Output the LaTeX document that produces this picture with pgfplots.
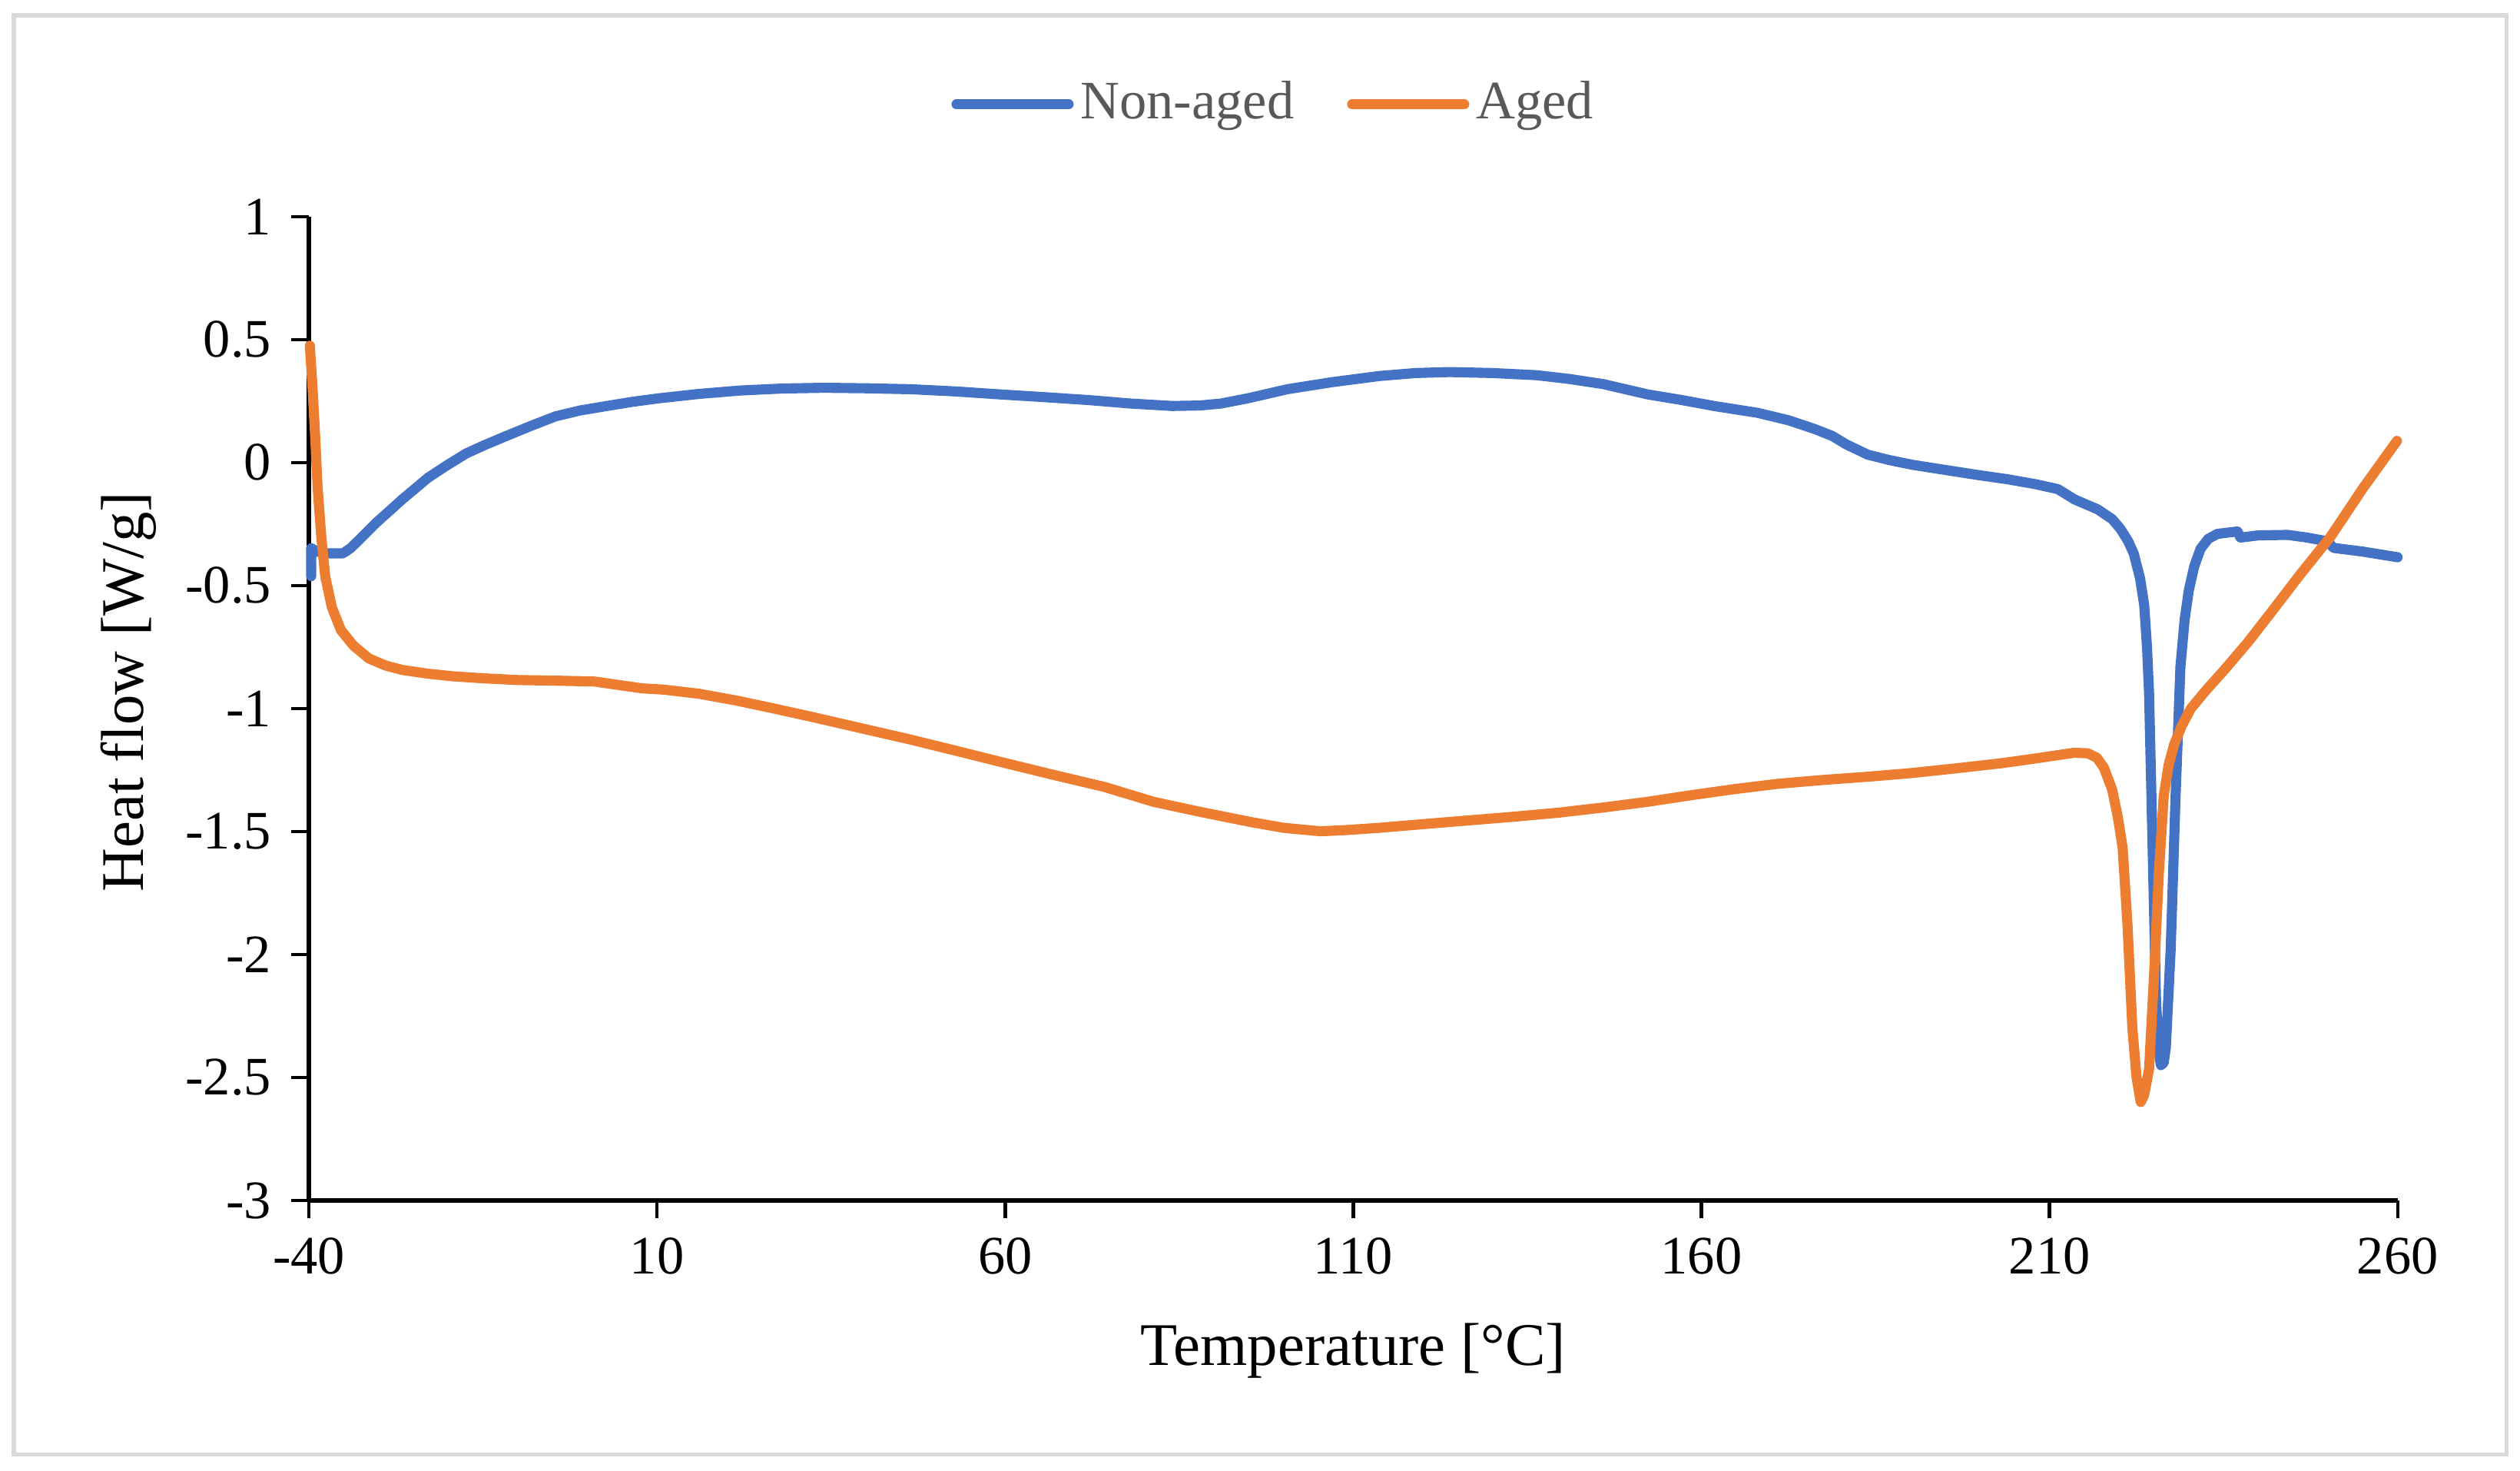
\documentclass[border=0pt]{standalone}
\usepackage{pgfplots}
\pgfplotsset{compat=1.18}
\usepackage{fontspec}
\setmainfont{Liberation Serif}
\definecolor{cblue}{HTML}{4472C4}
\definecolor{corange}{HTML}{ED7D31}
\definecolor{lgray}{HTML}{D9D9D9}
\definecolor{tgray}{HTML}{595959}

\pgfplotstableread{
T v
-39.67 -0.462
-39.67 -0.348
-38.8 -0.362
-37.65 -0.369
-35.1 -0.369
-34.0 -0.348
-32.2 -0.298
-30.3 -0.244
-28.4 -0.196
-26.6 -0.150
-24.7 -0.105
-22.9 -0.062
-20.1 -0.010
-17.4 0.037
-14.6 0.073
-11.9 0.105
-8.2 0.148
-4.55 0.188
-1.0 0.212
2.8 0.230
6.5 0.247
10.2 0.261
16.0 0.279
22 0.293
28 0.301
34 0.304
40 0.302
46.6 0.298
53 0.289
59.3 0.277
65.6 0.266
72.0 0.254
78 0.240
84.0 0.230
88 0.232
91.0 0.240
95 0.262
100.5 0.298
107 0.327
113.8 0.352
119 0.364
123.8 0.368
130 0.364
136.4 0.355
141 0.340
145.9 0.319
152.3 0.277
157 0.255
161.8 0.230
168.1 0.202
172.5 0.172
176.3 0.136
178.8 0.108
180.8 0.074
183.9 0.032
187 0.010
190.3 -0.009
195 -0.030
199.8 -0.051
204 -0.068
208.0 -0.088
211.2 -0.108
213.6 -0.150
216.9 -0.190
219 -0.230
220.2 -0.270
221.3 -0.320
222.1 -0.370
223.0 -0.470
223.6 -0.580
224.0 -0.750
224.3 -0.940
224.8 -1.560
225.3 -2.190
225.7 -2.400
226.0 -2.450
226.4 -2.440
226.7 -2.380
227.4 -1.980
228.1 -1.360
228.8 -0.830
229.4 -0.640
230.0 -0.520
230.8 -0.420
231.7 -0.350
232.8 -0.310
234.1 -0.290
237.0 -0.280
237.4 -0.305
240 -0.296
244.2 -0.294
247 -0.305
249.9 -0.320
250.8 -0.347
255 -0.362
260 -0.385
}\nonaged

\pgfplotstableread{
T v
-39.86 0.475
-39.5 0.319
-39.1 0.110
-38.75 -0.098
-38.2 -0.306
-37.65 -0.462
-36.7 -0.588
-35.4 -0.681
-33.6 -0.744
-31.4 -0.796
-29 -0.825
-26.6 -0.843
-23 -0.858
-19.3 -0.869
-15 -0.877
-10.1 -0.884
-4 -0.887
1.0 -0.890
4.65 -0.905
7.9 -0.918
10.95 -0.923
16.05 -0.940
21.5 -0.968
26.8 -1.000
32.1 -1.033
39 -1.078
46.1 -1.124
53 -1.172
60.2 -1.223
67 -1.270
74.3 -1.319
81.3 -1.379
88 -1.420
95.4 -1.462
100 -1.485
105.3 -1.499
109 -1.494
113.7 -1.485
120 -1.470
126.9 -1.454
133 -1.440
139.6 -1.423
146 -1.402
152.3 -1.379
158.6 -1.352
164.9 -1.327
171 -1.306
177.6 -1.290
184 -1.277
190.3 -1.262
196.6 -1.243
202.9 -1.223
207.5 -1.205
211.8 -1.187
213.5 -1.180
215.5 -1.182
216.8 -1.200
217.8 -1.240
219.0 -1.330
219.8 -1.440
220.5 -1.565
221.2 -1.880
221.9 -2.300
222.5 -2.500
223.1 -2.600
223.6 -2.570
224.3 -2.465
225.0 -2.090
225.7 -1.670
226.4 -1.356
227.1 -1.230
227.9 -1.146
229 -1.070
230.3 -1.000
232.5 -0.925
235.1 -0.843
238.5 -0.730
241.8 -0.610
246 -0.455
250.4 -0.300
255 -0.105
259.9 0.088
}\aged

\begin{document}
\begin{tikzpicture}
\useasboundingbox (0,0) rectangle (437.33pt,255.07pt);
\draw[lgray, line width=0.7pt] (2.4pt,2.7pt) rectangle (435pt,252.4pt);
\begin{axis}[
  at={(53.6pt,46.8pt)}, anchor=south west, scale only axis,
  width=362.5pt, height=170.7pt,
  xmin=-40, xmax=260, ymin=-3, ymax=1,
  xtick={-40,10,60,110,160,210,260},
  xticklabels={-40,10,60,110,160,210,260},
  ytick={-3,-2.5,-2,-1.5,-1,-0.5,0,0.5,1},
  yticklabels={-3,-2.5,-2,-1.5,-1,-0.5,0,0.5,1},
  axis lines*=left,
  tick align=outside, major tick length=3pt,
  tick style={black, line width=0.6pt},
  axis line style={black, line width=0.8pt},
  ticklabel style={font=\fontsize{9.4}{11}\selectfont, text=black},
  xlabel={Temperature [°C]},
  ylabel={Heat flow [W/g]},
  label style={font=\fontsize{10.5}{12}\selectfont},
  xlabel style={at={(axis description cs:0.5,-0.153)}, anchor=center},
  ylabel style={at={(axis description cs:-0.0864,0.517)}, anchor=center},
  legend style={at={(axis description cs:0.463,1.114)}, anchor=center, draw=none,
    font=\fontsize{9.4}{11}\selectfont, text=tgray,
    nodes={inner xsep=1.2pt},
    /tikz/every even column/.append style={column sep=8pt}},
  legend columns=2,
  legend image code/.code={\draw[#1, line width=1.7pt, line cap=round] (0pt,0pt) -- (19.5pt,0pt);},
  clip=false,
]
\addplot[cblue, line width=1.75pt, line join=round, line cap=round] table[x=T,y=v] {\nonaged};
\addlegendentry{Non-aged}
\addplot[corange, line width=1.75pt, line join=round, line cap=round] table[x=T,y=v] {\aged};
\addlegendentry{Aged}
\end{axis}
\end{tikzpicture}
\end{document}
